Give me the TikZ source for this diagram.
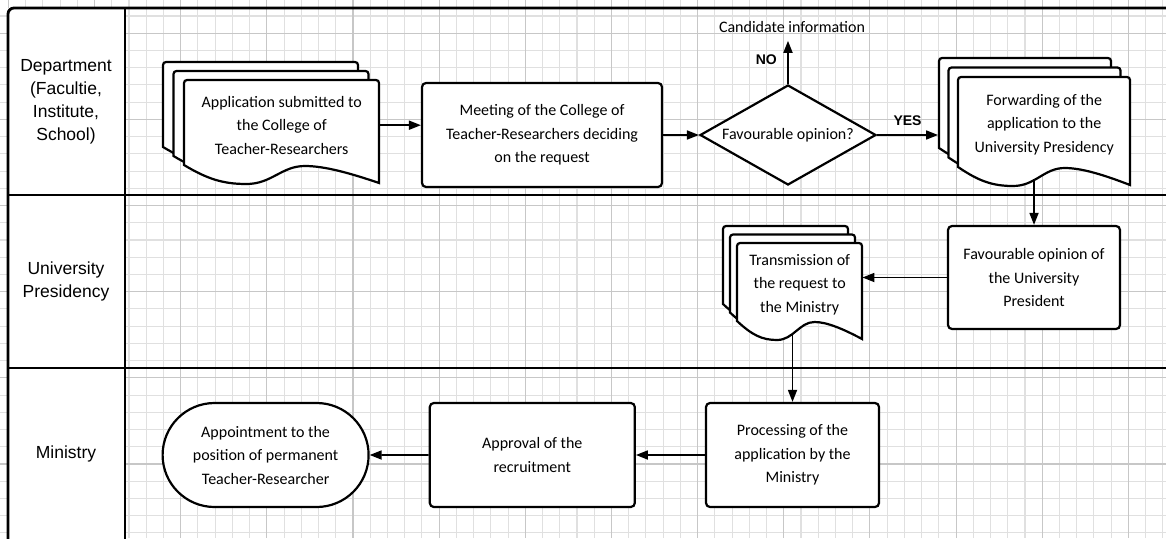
\documentclass[tikz,border=0pt]{standalone}
\usepackage{fontspec}
\setmainfont{Carlito}
\newfontfamily\lanefont{Liberation Sans}
\usetikzlibrary{positioning,calc,shapes.geometric,shapes.misc,arrows.meta}

\tikzset{
  gridminor/.style = {draw=black!12, line width=1.1pt},
  gridmajor/.style = {draw=black!22, line width=1.1pt},
  lane/.style = {line width=2.8pt},
  lanelabel/.style = {align=center, font=\lanefont\fontsize{17.5}{23}\selectfont},
  doctext/.style = {align=center, font=\fontsize{16}{23.5}\selectfont, inner sep=0pt},
  box/.style = {doctext, draw, fill=white, line width=2.2pt, rounded corners=4pt},
  decision/.style = {doctext, diamond, draw, fill=white, line width=2.2pt,
                     aspect=1.76, minimum width=176, minimum height=100},
  terminal/.style = {doctext, rounded rectangle, draw, fill=white, line width=2.2pt},
  sheet/.style = {draw, fill=white, line width=2.2pt},
  flow/.style = {-{Triangle[length=12pt,width=9pt]}, line width=1.7pt},
  answer/.style = {font=\lanefont\bfseries\fontsize{14}{14}\selectfont},
}

% stack of three sheets: name, top left corner, width, height, offset, text
\newcommand{\docstack}[6]{%
  \foreach \k in {2,1,0}
    \draw[sheet, shift={($(#2)+\k*(#5)$)}]
      (0,#4-18) [rounded corners=3pt] -- (0,0) -- (#3,0) [sharp corners] -- (#3,#4)
      .. controls (0.85*#3,#4-10) and (0.72*#3,#4-17) .. (0.62*#3,#4-17)
      .. controls (0.5*#3,#4-17) and (0.45*#3,#4+1) .. (0.32*#3,#4+1)
      .. controls (0.2*#3,#4+1) and (0.12*#3,#4-4) .. (0,#4-18) -- cycle;
  \node (#1) [doctext, minimum width=#3, minimum height=#4-13, anchor=north west] at (#2) {#6};
}

\begin{document}
\begin{tikzpicture}[x=1pt, y=-1pt]
  \useasboundingbox (0,0) rectangle (1166,538);
  \clip (0,0) rectangle (1166,538);

  % grid
  \foreach \i in {0,...,67}
    \draw[gridminor] (8.4+\i*17.23,0) -- (8.4+\i*17.23,538);
  \foreach \j in {0,...,31}
    \draw[gridminor] (0,-1.23+\j*17.23) -- (1166,-1.23+\j*17.23);
  \foreach \i in {0,...,13}
    \draw[gridmajor] (8.4+\i*86.15,0) -- (8.4+\i*86.15,538);
  \foreach \j in {0,...,5}
    \draw[gridmajor] (0,33.2+\j*86.15) -- (1166,33.2+\j*86.15);
  \fill[white] (8,8) rectangle (125,545);

  % lanes
  \draw[lane, rounded corners=6pt] (8,545) -- (8,8) -- (1175,8);
  \draw[lane] (125,8) -- (125,545);
  \draw[lane] (8,195) -- (1175,195);
  \draw[lane] (8,368) -- (1175,368);
  \node (deplabel) [lanelabel] at (66,102) {Department\\(Facultie,\\Institute,\\School)};
  \node (unilabel) [lanelabel] at (66,281) {University\\Presidency};
  \node (minlabel) [lanelabel] at (66,454) {Ministry};

  % department
  \docstack{app}{184,80}{195}{103}{-10.5,-9}{Application submitted to\\the College of\\Teacher-Researchers}
  \node (meet) [box, minimum width=240, minimum height=104] at (542,135)
    {Meeting of the College of\\Teacher-Researchers deciding\\on the request};
  \node (fav) [decision] at (788,135) {Favourable opinion?};
  \node (cand) [doctext, inner sep=3pt] at (792,27) {Candidate information};
  \docstack{fwd}{958,77}{172}{108}{-9.5,-9.5}{Forwarding of the\\application to the\\University Presidency}

  % university presidency
  \node (pres) [box, minimum width=172, minimum height=103] at (1034,277.5)
    {Favourable opinion of\\the University\\President};
  \docstack{trans}{737,243}{125}{96}{-7,-8.5}{Transmission of\\the request to\\the Ministry}

  % ministry
  \node (proc) [box, minimum width=173, minimum height=104] at (792.5,455)
    {Processing of the\\application by the\\Ministry};
  \node (appr) [box, minimum width=205, minimum height=104, left=69pt of proc]
    {Approval of the\\recruitment};
  \node (appoint) [terminal, minimum width=206, minimum height=104, left=59pt of appr]
    {Appointment to the\\position of permanent\\Teacher-Researcher};

  \draw[flow] (app.east) -- (app.east -| meet.west);
  \draw[flow] (meet) -- (fav);
  \draw[flow, shorten >=5pt] (fav.north) -- node[answer, left=7pt] {NO} (fav.north |- cand.south);
  \draw[flow] (fav.east) -- node[answer, above=5pt] {YES} ([xshift=-20pt]fav.east -| fwd.west);
  \draw[flow, shorten <=7pt] (pres.north |- fwd.south) -- (pres.north);
  \draw[flow] (pres.west) -- (pres.west -| trans.east);
  \draw[flow, shorten <=7pt] (proc.north |- trans.south) -- (proc.north);
  \draw[flow] (proc) -- (appr);
  \draw[flow] (appr) -- (appoint);
\end{tikzpicture}
\end{document}
